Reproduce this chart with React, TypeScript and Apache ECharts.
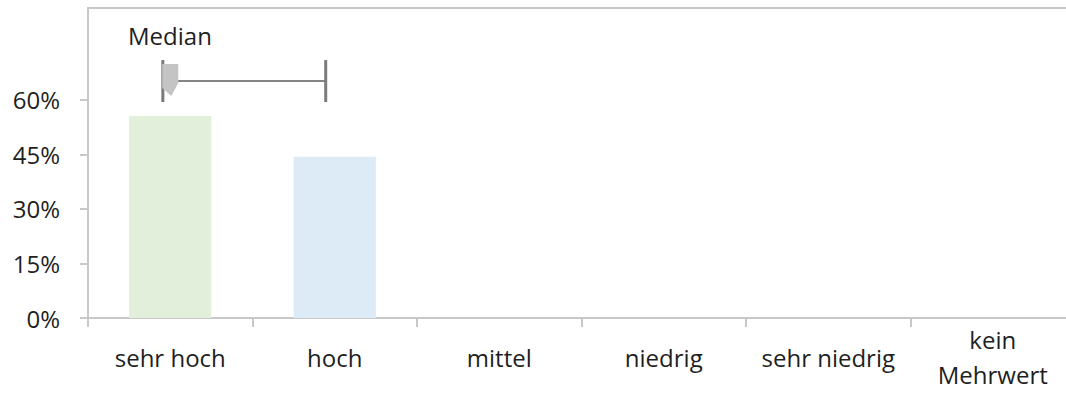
import React, { useEffect, useRef } from "react";
import * as echarts from "echarts";

// Rating categories on the x axis
const categories = ["sehr hoch", "hoch", "mittel", "niedrig", "sehr niedrig", "kein\nMehrwert"];
// Share of answers per category
const shares = [0.556, 0.444, 0, 0, 0, 0];
const barColors = ["#e2efda", "#ddebf7", "#e2efda", "#ddebf7", "#e2efda", "#ddebf7"];
// Labelled ticks of the percentage axis
const yTicks = [0, 0.15, 0.3, 0.45, 0.6];
const yMax = 0.853;
// Median marker: position on the category scale, whisker ends, height on the percentage axis
const medianPosition = [0];
const whiskerLow = [-0.045];
const whiskerHigh = [0.945];
const markerLevel = [0.652];

const FONT = "'Open Sans', sans-serif";
const TEXT = "#1f1f1f";
const AXIS = "#c8c8c8";

export default function App() {
  const ref = useRef<HTMLDivElement>(null);

  useEffect(() => {
    if (!ref.current) return;
    const chart = echarts.init(ref.current, null, { renderer: "svg" });

    const markerData = medianPosition.map((m, i) => [m, whiskerLow[i], whiskerHigh[i], markerLevel[i]]);

    chart.setOption({
      animation: false,
      backgroundColor: "#ffffff",
      textStyle: { fontFamily: FONT, color: TEXT },
      title: {
        text: "Median",
        left: 123,
        top: 18,
        textStyle: { fontFamily: FONT, fontSize: 24, fontWeight: "normal", color: TEXT },
      },
      grid: {
        left: 88,
        right: -9,
        top: 8,
        bottom: 77,
        show: true,
        borderColor: AXIS,
        borderWidth: 2,
        outerBoundsMode: "none",
      },
      xAxis: [
        {
          type: "category",
          data: categories,
          axisLine: { show: true, onZero: false, lineStyle: { color: AXIS, width: 2 } },
          axisTick: { show: true, length: 9, lineStyle: { color: AXIS, width: 2 } },
          axisLabel: {
            interval: 0,
            fontFamily: FONT,
            fontSize: 24,
            lineHeight: 35,
            color: TEXT,
            verticalAlign: "middle",
            margin: 39,
          },
          splitLine: { show: false },
        },
        {
          type: "value",
          min: -0.5,
          max: 5.5,
          show: false,
        },
      ],
      yAxis: {
        type: "value",
        min: 0,
        max: yMax,
        interval: 0.15,
        axisLine: { show: true, onZero: false, lineStyle: { color: AXIS, width: 2 } },
        axisTick: {
          show: true,
          length: 8,
          customValues: yTicks,
          lineStyle: { color: AXIS, width: 2 },
        },
        axisLabel: {
          customValues: yTicks,
          formatter: (v: number) => Math.round(v * 100) + "%",
          fontFamily: FONT,
          fontSize: 24,
          color: TEXT,
          margin: 28,
        },
        splitLine: { show: false },
      },
      series: [
        {
          type: "bar",
          xAxisIndex: 0,
          yAxisIndex: 0,
          barWidth: "50%",
          data: shares.map((v, i) => ({ value: v, itemStyle: { color: barColors[i] } })),
        },
        {
          type: "custom",
          xAxisIndex: 1,
          yAxisIndex: 0,
          clip: false,
          data: markerData,
          renderItem: (_params: any, api: any) => {
            const level = api.value(3);
            const p = api.coord([api.value(0), level]);
            const lo = api.coord([api.value(1), level]);
            const hi = api.coord([api.value(2), level]);
            const cap = 21;
            const capStyle = { stroke: "#7b7b7b", lineWidth: 3 };
            return {
              type: "group",
              children: [
                { type: "line", shape: { x1: lo[0], y1: lo[1], x2: hi[0], y2: hi[1] }, style: { stroke: "#858585", lineWidth: 2 } },
                { type: "line", shape: { x1: lo[0], y1: lo[1] - cap, x2: lo[0], y2: lo[1] + cap }, style: capStyle },
                { type: "line", shape: { x1: hi[0], y1: hi[1] - cap, x2: hi[0], y2: hi[1] + cap }, style: capStyle },
                {
                  type: "polygon",
                  shape: {
                    points: [
                      [p[0] - 8, p[1] - 17],
                      [p[0] + 8, p[1] - 17],
                      [p[0] + 8, p[1] + 2],
                      [p[0] + 1, p[1] + 15],
                      [p[0] - 8, p[1] + 7],
                    ],
                  },
                  style: { fill: "#c4c4c4" },
                },
              ],
            };
          },
        },
      ],
    });

    return () => chart.dispose();
  }, []);

  return (
    <div
      ref={ref}
      style={{ position: "absolute", left: 0, top: 0, width: 1066, height: 395, background: "#fff" }}
    />
  );
}
